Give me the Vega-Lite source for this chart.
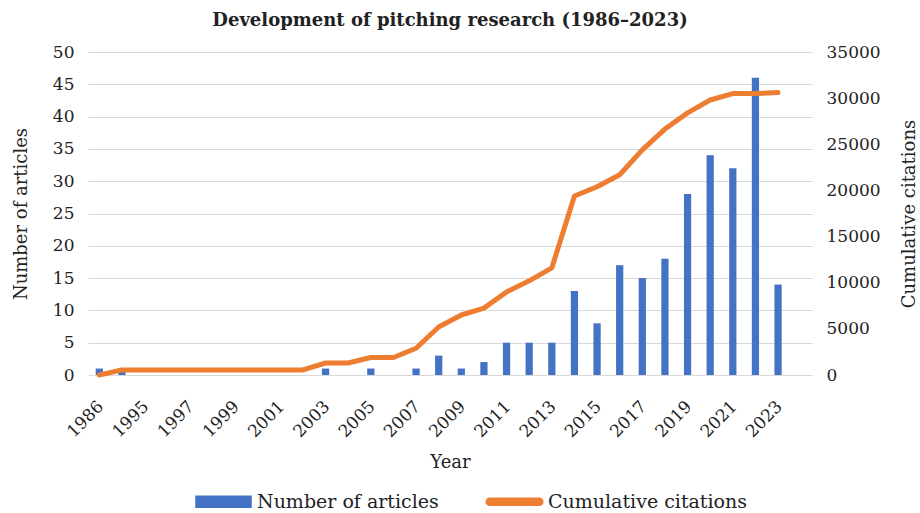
{
  "$schema": "https://vega.github.io/schema/vega-lite/v6.json",
  "autosize": {"type": "none"},
  "width": 724,
  "height": 323,
  "padding": {"left": 88, "top": 52, "right": 108, "bottom": 138},
  "background": "white",
  "config": {
    "font": "DejaVu Serif",
    "view": {"stroke": null},
    "axis": {"labelFont": "DejaVu Serif", "titleFont": "DejaVu Serif", "labelColor": "#222222", "titleColor": "#222222", "titleFontWeight": "normal"}
  },
  "title": {
    "text": "Development of pitching research (1986–2023)",
    "font": "DejaVu Serif",
    "fontSize": 18,
    "fontWeight": "bold",
    "color": "#222222",
    "anchor": "middle",
    "offset": 13
  },
  "data": {
    "values": [
      {"year": "1986", "articles": 1, "citations": 0},
      {"year": "1994", "articles": 1, "citations": 550},
      {"year": "1995", "articles": 0, "citations": 550},
      {"year": "1996", "articles": 0, "citations": 550},
      {"year": "1997", "articles": 0, "citations": 550},
      {"year": "1998", "articles": 0, "citations": 550},
      {"year": "1999", "articles": 0, "citations": 550},
      {"year": "2000", "articles": 0, "citations": 550},
      {"year": "2001", "articles": 0, "citations": 550},
      {"year": "2002", "articles": 0, "citations": 550},
      {"year": "2003", "articles": 1, "citations": 1300},
      {"year": "2004", "articles": 0, "citations": 1300},
      {"year": "2005", "articles": 1, "citations": 1900},
      {"year": "2006", "articles": 0, "citations": 1900},
      {"year": "2007", "articles": 1, "citations": 2900},
      {"year": "2008", "articles": 3, "citations": 5200},
      {"year": "2009", "articles": 1, "citations": 6500},
      {"year": "2010", "articles": 2, "citations": 7250},
      {"year": "2011", "articles": 5, "citations": 9000},
      {"year": "2012", "articles": 5, "citations": 10200},
      {"year": "2013", "articles": 5, "citations": 11600},
      {"year": "2014", "articles": 13, "citations": 19400},
      {"year": "2015", "articles": 8, "citations": 20400},
      {"year": "2016", "articles": 17, "citations": 21700},
      {"year": "2017", "articles": 15, "citations": 24400},
      {"year": "2018", "articles": 18, "citations": 26650},
      {"year": "2019", "articles": 28, "citations": 28400},
      {"year": "2020", "articles": 34, "citations": 29800},
      {"year": "2021", "articles": 32, "citations": 30500},
      {"year": "2022", "articles": 46, "citations": 30500},
      {"year": "2023", "articles": 14, "citations": 30600}
    ]
  },
  "encoding": {
    "x": {
      "field": "year",
      "type": "ordinal",
      "scale": {
        "domain": ["1986","1994","1995","1996","1997","1998","1999","2000","2001","2002","2003","2004","2005","2006","2007","2008","2009","2010","2011","2012","2013","2014","2015","2016","2017","2018","2019","2020","2021","2022","2023",""],
        "paddingInner": 0.68,
        "paddingOuter": 0.34
      },
      "axis": {
        "title": "Year",
        "titleFontSize": 18,
        "titlePadding": 14,
        "values": ["1986","1995","1997","1999","2001","2003","2005","2007","2009","2011","2013","2015","2017","2019","2021","2023"],
        "labelAngle": -45,
        "labelFontSize": 17,
        "labelPadding": 23,
        "labelOffset": -4,
        "ticks": false,
        "domain": false,
        "grid": false
      }
    }
  },
  "layer": [
    {
      "mark": {"type": "bar", "color": "#4472C4"},
      "encoding": {
        "y": {
          "field": "articles",
          "type": "quantitative",
          "scale": {"domain": [0, 50]},
          "axis": {
            "title": "Number of articles",
            "titleFontSize": 18,
            "titlePadding": 22,
            "values": [0,5,10,15,20,25,30,35,40,45,50],
            "labelFontSize": 17,
            "labelPadding": 14,
            "ticks": false,
            "domain": false,
            "grid": true,
            "gridColor": "#d9d9d9",
            "gridWidth": 1.2
          }
        },
        "color": {
          "datum": "Number of articles",
          "type": "nominal",
          "scale": {"domain": ["Number of articles", "Cumulative citations"], "range": ["#4472C4", "#ED7D31"]},
          "legend": {
            "title": null,
            "orient": "none",
            "legendX": 107,
            "legendY": 421,
            "direction": "horizontal",
            "symbolType": "M-1,-0.2H1V0.2H-1Z",
            "symbolSize": 3025,
            "labelFontSize": 19,
            "labelFont": "DejaVu Serif",
            "labelColor": "#222222",
            "labelLimit": 400,
            "labelOffset": 5,
            "columnPadding": 44,
            "encode": {"symbols": {"update": {
              "fill": {"scale": "color", "field": "value"},
              "stroke": {"value": "transparent"},
              "opacity": {"value": 1},
              "shape": {"signal": "datum.value === 'Cumulative citations' ? 'M-0.9,-0.13H0.9A0.13,0.13,0,0,1,0.9,0.13H-0.9A0.13,0.13,0,0,1,-0.9,-0.13Z' : 'M-1,-0.2H1V0.2H-1Z'"}
            }}}
          }
        }
      }
    },
    {
      "mark": {"type": "line", "color": "#ED7D31", "strokeWidth": 5, "strokeCap": "round", "strokeJoin": "round"},
      "encoding": {
        "y": {
          "field": "citations",
          "type": "quantitative",
          "scale": {"domain": [0, 35000]},
          "axis": {
            "orient": "right",
            "title": "Cumulative citations",
            "titleAngle": 270,
            "titleFontSize": 18,
            "titlePadding": 38,
            "values": [0,5000,10000,15000,20000,25000,30000,35000],
            "format": "d",
            "labelFontSize": 17,
            "labelPadding": 14,
            "ticks": false,
            "domain": false,
            "grid": false
          }
        },
        "color": {"datum": "Cumulative citations", "type": "nominal"}
      }
    }
  ],
  "resolve": {"scale": {"y": "independent"}}
}
